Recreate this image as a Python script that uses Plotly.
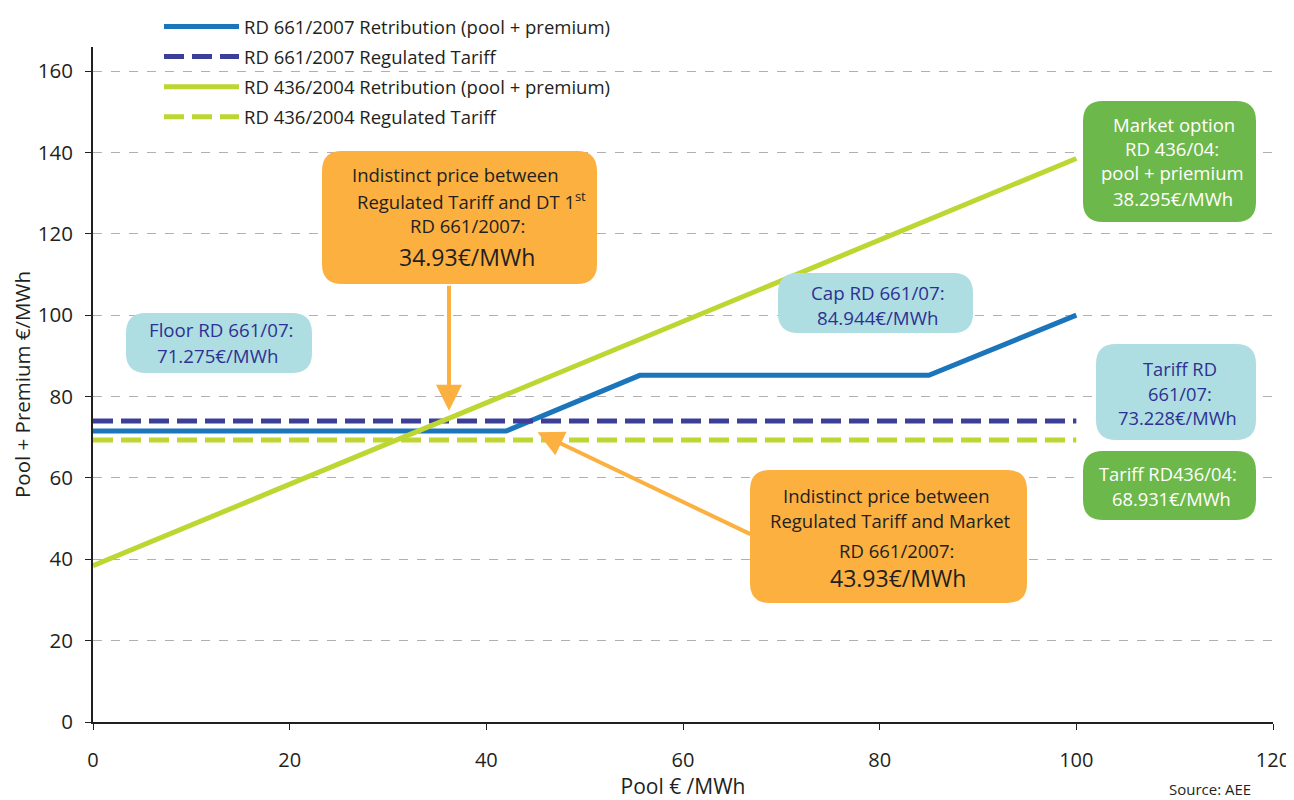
import plotly.graph_objects as go

# ---- data ----
pool_blue = [0, 42, 55.6, 85, 100]
ret_661 = [71.5, 71.5, 85.2, 85.2, 100]
pool_green = [0, 100]
ret_436 = [38.4, 138.5]
tariff_x = [0, 100]
tariff_661 = [74.0, 74.0]
tariff_436 = [69.3, 69.3]

names = ["RD 661/2007 Retribution (pool + premium)",
         "RD 661/2007 Regulated Tariff",
         "RD 436/2004 Retribution (pool + premium)",
         "RD 436/2004 Regulated Tariff"]

x_ticks = [0, 20, 40, 60, 80, 100, 120]
y_ticks = [0, 20, 40, 60, 80, 100, 120, 140, 160]

BLUE = "#1B75BB"
NAVY = "#3C3F98"
LIME = "#BDD632"
ORANGE = "#FBB040"
LBLUE = "#AEDDE2"
GREEN = "#6DB84B"
TXTNAVY = "#2E3192"
DARK = "#231F20"
FONT = "Open Sans"

# page offset (body margin) compensation
OFF = 8
W, H = 1294 - OFF, 800 - OFF
# plot area in screen pixels
L, R, T, B = 93, 1273, 47, 722
PTOP = OFF  # paper top in screen pixels (top margin = 0)


def px(x):
    return (x - L) / (R - L)


def py(y):
    return (B - y) / (B - PTOP)


fig = go.Figure()
fig.add_trace(go.Scatter(x=pool_blue, y=ret_661, mode="lines", name=names[0], legendgroup="a",
                         line=dict(color=BLUE, width=5)))
fig.add_trace(go.Scatter(x=tariff_x, y=tariff_661, mode="lines", name=names[1], legendgroup="b",
                         line=dict(color=NAVY, width=5, dash="20px,8px")))
fig.add_trace(go.Scatter(x=pool_green, y=ret_436, mode="lines", name=names[2], legendgroup="c",
                         line=dict(color=LIME, width=5)))
fig.add_trace(go.Scatter(x=tariff_x, y=tariff_436, mode="lines", name=names[3], legendgroup="d",
                         line=dict(color=LIME, width=5, dash="20px,8px")))


def rrect(x0, y0, x1, y1, r=20):
    pts = [("M", x0 + r, y0), ("L", x1 - r, y0), ("Q", x1, y0, x1, y0 + r),
           ("L", x1, y1 - r), ("Q", x1, y1, x1 - r, y1), ("L", x0 + r, y1),
           ("Q", x0, y1, x0, y1 - r), ("L", x0, y0 + r), ("Q", x0, y0, x0 + r, y0)]
    s = ""
    for p in pts:
        cmd = p[0]
        coords = p[1:]
        parts = []
        for i in range(0, len(coords), 2):
            parts.append(f"{px(coords[i]):.5f},{py(coords[i+1]):.5f}")
        s += cmd + " " + " ".join(parts) + " "
    return s + "Z"


# boxes: (x0, y0, x1, y1, fill, text colour, [(cx, cy, text, size), ...])
boxes = [
    (322, 151, 597, 284, ORANGE, DARK, [
        (455, 175, "Indistinct price between", 18.5),
        (471, 200, "Regulated Tariff and DT 1<sup>st</sup>", 18.5),
        (467, 225, "RD 661/2007:", 18.5),
        (467, 257, "34.93€/MWh", 23)]),
    (750, 470, 1027, 603, ORANGE, DARK, [
        (886.5, 495, "Indistinct price between", 18.5),
        (890, 520, "Regulated Tariff and Market", 18.5),
        (896.5, 550, "RD 661/2007:", 18.5),
        (897.5, 578, "43.93€/MWh", 23)]),
    (126, 313, 312, 373, LBLUE, TXTNAVY, [
        (220.5, 330, "Floor RD 661/07:", 18.7),
        (217.5, 355, "71.275€/MWh", 18.7)]),
    (778, 273, 973, 333, LBLUE, TXTNAVY, [
        (878, 292, "Cap RD 661/07:", 18.7),
        (877.5, 317, "84.944€/MWh", 18.7)]),
    (1083, 101, 1256, 222, GREEN, "white", [
        (1173.5, 125, "Market option", 18.5),
        (1171.5, 149, "RD 436/04:", 18.5),
        (1172.5, 173, "pool + priemium", 18.5),
        (1173, 198, "38.295€/MWh", 18.5)]),
    (1096, 344, 1256, 440, LBLUE, TXTNAVY, [
        (1180, 368, "Tariff RD", 18.3),
        (1180, 393, "661/07:", 18.3),
        (1177, 418, "73.228€/MWh", 18.3)]),
    (1083, 451, 1256, 520, GREEN, "white", [
        (1168, 473, "Tariff RD436/04:", 18.3),
        (1171, 498, "68.931€/MWh", 18.3)]),
]

shapes = []
annotations = []
for (x0, y0, x1, y1, fill, tc, lines) in boxes:
    shapes.append(dict(type="path", xref="paper", yref="paper", path=rrect(x0, y0, x1, y1, 20),
                       fillcolor=fill, line=dict(width=0), layer="above"))
    for (cx, cy, text, size) in lines:
        annotations.append(dict(xref="paper", yref="paper", x=px(cx), y=py(cy),
                                text=text, showarrow=False, xanchor="center", yanchor="middle",
                                font=dict(family=FONT, size=size, color=tc), align="center"))

# arrows
annotations.append(dict(x=36.2, y=76.5, xref="x", yref="y", ax=36.2, ay=107.6, axref="x", ayref="y",
                        text="", showarrow=True, arrowhead=2, arrowsize=1.3, arrowwidth=4,
                        arrowcolor=ORANGE))
annotations.append(dict(x=45.2, y=71.2, xref="x", yref="y", ax=67.0, ay=46.0, axref="x", ayref="y",
                        text="", showarrow=True, arrowhead=2, arrowsize=1.3, arrowwidth=4,
                        arrowcolor=ORANGE))

annotations.append(dict(xref="paper", yref="paper", x=px(1210), y=py(789), text="Source: AEE",
                        showarrow=False, xanchor="center", yanchor="middle",
                        font=dict(family=FONT, size=15, color=DARK)))

fig.update_layout(
    width=W, height=H,
    margin=dict(l=L - OFF, r=W - (R - OFF), t=PTOP - OFF, b=H - (B - OFF), autoexpand=False),
    plot_bgcolor="white", paper_bgcolor="white",
    font=dict(family=FONT, size=18, color=DARK),
    showlegend=True,
    legend=dict(x=px(159), y=1.0, xanchor="left", yanchor="top",
                bgcolor="rgba(0,0,0,0)",
                font=dict(family=FONT, size=18.5, color=DARK), itemwidth=75,
                tracegroupgap=3, traceorder="grouped"),
    shapes=shapes,
    annotations=annotations,
    xaxis=dict(range=[0, 120], tickvals=x_ticks, showgrid=False, zeroline=False, automargin=False,
               showline=True, linecolor=DARK, linewidth=2, ticks="outside", ticklen=6,
               tickcolor=DARK, tickfont=dict(family=FONT, size=20), ticklabelstandoff=13,
               title=dict(text="Pool € /MWh", font=dict(family=FONT, size=21), standoff=18)),
    yaxis=dict(range=[0, 165.9], tickvals=y_ticks, showgrid=True, gridcolor="#B0B0B0",
               domain=[0, (B - T) / (B - PTOP)],
               griddash="dash", gridwidth=1, zeroline=False, automargin=False,
               showline=True, linecolor=DARK, linewidth=2, ticks="outside", ticklen=6,
               tickcolor=DARK, tickfont=dict(family=FONT, size=20.5), ticklabelstandoff=8,
               title=dict(text="Pool + Premium €/MWh", font=dict(family=FONT, size=20.5), standoff=10)),
)

fig.write_html("out.html")
